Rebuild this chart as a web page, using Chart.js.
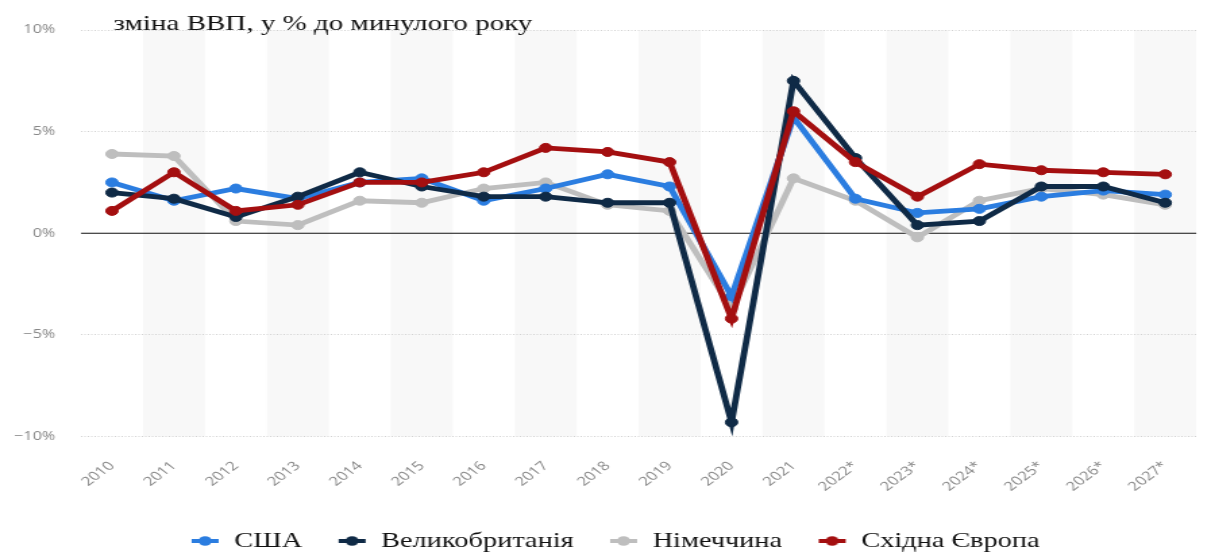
<!DOCTYPE html>
<html>
<head>
<meta charset="utf-8">
<script src="https://cdn.jsdelivr.net/npm/chart.js@4/dist/chart.umd.min.js"></script>
<style>
body { margin: 0; background: #fff; overflow: hidden; }
#wrap { width: 896px; height: 552px; transform: scaleX(1.35); transform-origin: 0 0; }
</style>
</head>
<body>
<div id="wrap"><canvas id="gdp" width="896" height="552"></canvas></div>
<script>
// data
var years = ['2010', '2011', '2012', '2013', '2014', '2015', '2016', '2017', '2018', '2019',
	'2020', '2021', '2022*', '2023*', '2024*', '2025*', '2026*', '2027*'];
var yTicks = [-10, -5, 0, 5, 10];
var yTickLabels = ['−10%', '−5%', '0%', '5%', '10%'];

var usa        = [2.5, 1.6, 2.2, 1.7, 2.5, 2.7, 1.6, 2.2, 2.9, 2.3, -3.1, 5.7, 1.7, 1.0, 1.2, 1.8, 2.1, 1.9];
var uk         = [2.0, 1.7, 0.8, 1.8, 3.0, 2.3, 1.8, 1.8, 1.5, 1.5, -9.3, 7.5, 3.7, 0.4, 0.6, 2.3, 2.3, 1.5];
var germany    = [3.9, 3.8, 0.6, 0.4, 1.6, 1.5, 2.2, 2.5, 1.4, 1.1, -3.7, 2.7, 1.6, -0.2, 1.6, 2.2, 1.9, 1.4];
var eastEurope = [1.1, 3.0, 1.1, 1.4, 2.5, 2.5, 3.0, 4.2, 4.0, 3.5, -4.2, 6.0, 3.5, 1.8, 3.4, 3.1, 3.0, 2.9];

var seriesNames = ['США', 'Великобританія', 'Німеччина', 'Східна Європа'];
var seriesColors = ['#2b7de0', '#0f2a46', '#bebebe', '#a40f10'];
var seriesOrder = [2, 1, 3, 0]; // red on top, grey at the bottom
var chartTitle = 'зміна ВВП, у % до минулого року';

// legend marker: blank gap on the left, then a short line with a dot
function legendIcon(color) {
	var c = document.createElement('canvas');
	c.width = 46;
	c.height = 12;
	var ctx = c.getContext('2d');
	ctx.strokeStyle = color;
	ctx.lineWidth = 4;
	ctx.beginPath();
	ctx.moveTo(25, 6);
	ctx.lineTo(45, 6);
	ctx.stroke();
	ctx.fillStyle = color;
	ctx.beginPath();
	ctx.arc(35, 6, 4.8, 0, Math.PI * 2);
	ctx.fill();
	return c;
}

// grey stripes behind every second year
var bandsPlugin = {
	id: 'bands',
	beforeDraw: function(chart) {
		var ctx = chart.ctx, area = chart.chartArea, x = chart.scales.x;
		var half = (x.getPixelForValue(1) - x.getPixelForValue(0)) / 2;
		ctx.save();
		ctx.fillStyle = '#f8f8f8';
		for (var i = 1; i < years.length; i += 2) {
			var cx = x.getPixelForValue(i);
			ctx.fillRect(cx - half, area.top, half * 2, area.bottom - area.top);
		}
		ctx.restore();
	},
	beforeDatasetsDraw: function(chart) {
		var ctx = chart.ctx, area = chart.chartArea;
		var y0 = chart.scales.y.getPixelForValue(0);
		ctx.save();
		ctx.strokeStyle = '#111';
		ctx.lineWidth = 1.2;
		ctx.beginPath();
		ctx.moveTo(area.left, y0);
		ctx.lineTo(area.right, y0);
		ctx.stroke();
		ctx.restore();
	},
	afterDraw: function(chart) {
		var ctx = chart.ctx;
		ctx.save();
		ctx.font = '21.5px "Liberation Serif"';
		ctx.fillStyle = '#111';
		ctx.textBaseline = 'alphabetic';
		ctx.fillText(chartTitle, chart.chartArea.left + 24, chart.chartArea.top);
		ctx.restore();
	}
};

var allSeries = [usa, uk, germany, eastEurope];
var datasets = [];
for (var k = 0; k < allSeries.length; k++) {
	datasets.push({
		label: seriesNames[k],
		data: allSeries[k],
		borderColor: seriesColors[k],
		backgroundColor: seriesColors[k],
		pointBackgroundColor: seriesColors[k],
		pointBorderColor: seriesColors[k],
		borderWidth: 4.8,
		pointRadius: 4.5,
		pointBorderWidth: 1,
		tension: 0,
		order: seriesOrder[k]
	});
}

new Chart(document.getElementById('gdp').getContext('2d'), {
	type: 'line',
	data: { labels: years, datasets: datasets },
	plugins: [bandsPlugin],
	options: {
		responsive: false,
		animation: false,
		devicePixelRatio: 1,
		layout: { padding: { top: 30, right: 9, bottom: -9.5, left: 0 } },
		plugins: {
			tooltip: { enabled: false },
			legend: {
				position: 'bottom',
				labels: {
					usePointStyle: true,
					pointStyleWidth: 46,
					boxHeight: 12,
					padding: 2,
					color: '#111',
					font: { family: '"Liberation Serif"', size: 21 },
					generateLabels: function(chart) {
						return chart.data.datasets.map(function(ds, i) {
							return {
								text: ds.label,
								fillStyle: ds.borderColor,
								strokeStyle: ds.borderColor,
								lineWidth: 0,
								pointStyle: legendIcon(ds.borderColor),
								fontColor: '#111',
								hidden: false,
								datasetIndex: i
							};
						});
					}
				}
			}
		},
		scales: {
			x: {
				offset: true,
				grid: { display: false, drawTicks: false },
				border: { display: false },
				ticks: {
					color: '#888',
					font: { family: '"Open Sans"', size: 12.5 },
					minRotation: 45,
					maxRotation: 45,
					autoSkip: false,
					padding: 22
				},
				afterFit: function(scale) { scale.height = 92; }
			},
			y: {
				min: -10,
				max: 10,
				grid: {
					drawTicks: false,
					lineWidth: 1,
					color: function(c) { return c.tick && c.tick.value === 0 ? 'rgba(0,0,0,0)' : '#d2d2d2'; }
				},
				border: { display: false, dash: [1, 1.5] },
				ticks: {
					stepSize: 5,
					padding: 19,
					color: '#888',
					font: { family: '"Open Sans"', size: 12 },
					callback: function(v) {
						var i = yTicks.indexOf(v);
						return i < 0 ? '' : yTickLabels[i];
					}
				},
				afterFit: function(scale) { scale.width = 60; }
			}
		}
	}
});
</script>
</body>
</html>
